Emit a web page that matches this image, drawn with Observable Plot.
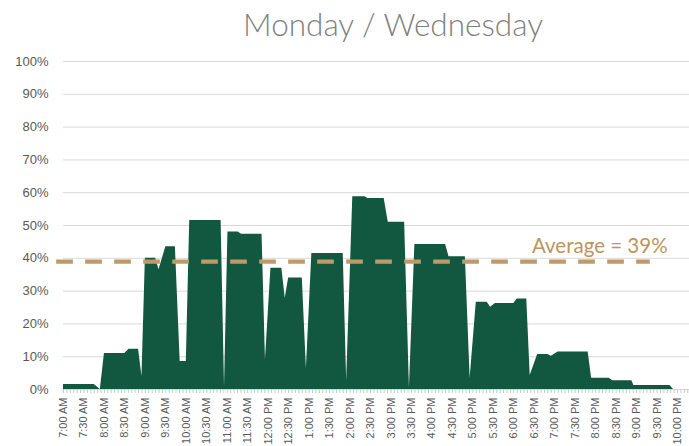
<!DOCTYPE html>
<html><head><meta charset="utf-8">
<script src="https://cdn.jsdelivr.net/npm/d3@7"></script>
<script src="https://cdn.jsdelivr.net/npm/@observablehq/plot@0.6"></script>
<style>
body{margin:0;background:#fff;width:689px;height:446px;overflow:hidden;position:relative}
#title{position:absolute;left:393px;top:5px;transform:translateX(-50%);white-space:nowrap;font-family:Lato,"Open Sans",sans-serif;font-weight:300;font-size:31.5px;color:#7f7f7f;line-height:38px}
#chart{position:absolute;left:0;top:0}
</style>
</head><body>
<div id="chart"></div>
<div id="title">Monday / Wednesday</div>
<script>
// vertices of the occupancy profile (time of day, percent occupied)
const times = ["7:00","7:45","7:54","8:00","8:30","8:36","8:50","8:55","9:00","9:15","9:20","9:30","9:44","9:51","10:00","10:05","10:51","10:56","11:01","11:16","11:21","11:51","11:56","12:04","12:20","12:25","12:30","12:50","12:56","13:04","13:50","13:55","14:04","14:22","14:26","14:50","14:56","15:20","15:27","15:35","16:20","16:25","16:49","16:56","17:05","17:21","17:26","17:33","18:00","18:05","18:19","18:24","18:35","18:50","18:55","19:05","19:49","19:54","20:20","20:25","20:53","20:56","21:49","21:54"];
const occupancy = [1.5,1.5,0,11,11,12.3,12.3,4,40,40,36.5,43.5,43.5,8.5,8.5,51.5,51.5,0.8,48,48,47.3,47.3,9.1,37,37,27.8,34,34,6.3,41.5,41.5,2.7,58.8,58.8,58.2,58.2,51,51,0.5,44.2,44.2,40.5,40.5,3.4,26.6,26.6,25.1,26.2,26.2,27.6,27.6,4.3,10.7,10.7,10.1,11.4,11.4,3.4,3.4,2.7,2.7,1.2,1.2,0];
const averagePct = 39;
const averageLabel = "Average = 39%";
const tickLabels = ["7:00 AM","7:30 AM","8:00 AM","8:30 AM","9:00 AM","9:30 AM","10:00 AM","10:30 AM","11:00 AM","11:30 AM","12:00 PM","12:30 PM","1:00 PM","1:30 PM","2:00 PM","2:30 PM","3:00 PM","3:30 PM","4:00 PM","4:30 PM","5:00 PM","5:30 PM","6:00 PM","6:30 PM","7:00 PM","7:30 PM","8:00 PM","8:30 PM","9:00 PM","9:30 PM","10:00 PM"];
const yTicks = [0,0.1,0.2,0.3,0.4,0.5,0.6,0.7,0.8,0.9,1];

const toMin = s => { const [h, m] = s.split(":").map(Number); return (h - 7) * 60 + m; };
const data = times.map((t, i) => ({x: toMin(t), y: occupancy[i] / 100}));
const majorTicks = tickLabels.map((_, i) => i * 30);
const minorTicks = d3.range(0, 916, 5);

const chart = Plot.plot({
  width: 689, height: 446,
  marginLeft: 63, marginRight: 0, marginTop: 61, marginBottom: 57,
  x: {domain: [0, 917.5], axis: null},
  y: {domain: [0, 1], axis: null},
  style: {fontFamily: "'Liberation Sans', Arial, sans-serif", background: "white", overflow: "visible"},
  marks: [
    Plot.gridY(yTicks.filter(d => d > 0), {stroke: "#d9d9d9", strokeOpacity: 1, strokeWidth: 1}),
    Plot.areaY(data, {x: "x", y: "y", fill: "#12573F", curve: "linear"}),
    Plot.ruleY([0], {stroke: "#d9d9d9", strokeWidth: 1}),
    Plot.axisX({ticks: minorTicks, tickSize: 4, tickFormat: () => "", label: null, stroke: "#c8c8c8", strokeOpacity: 1}),
    Plot.axisX({ticks: majorTicks, tickSize: 0, tickPadding: 8, tickRotate: -90, label: null,
      tickFormat: d => tickLabels[Math.round(d / 30)], fontSize: 11, fill: "#595959"}),
    Plot.axisY({ticks: yTicks, tickSize: 0, tickPadding: 15, label: null, tickFormat: d => Math.round(d * 100) + "%", fontSize: 13, fill: "#595959"}),
    Plot.ruleY([averagePct / 100], {x1: -10, x2: 860, stroke: "#BE9A68", strokeWidth: 4.3, strokeDasharray: "16.7,12.3"}),
    Plot.text([averageLabel], {x: 786, y: averagePct / 100, text: d => d, lineAnchor: "bottom", dy: -9,
      fontSize: 20.5, fontWeight: 400, fill: "#BA955F", fontFamily: "Lato, 'Open Sans', sans-serif"})
  ]
});
document.getElementById("chart").appendChild(chart);
</script>
</body></html>
